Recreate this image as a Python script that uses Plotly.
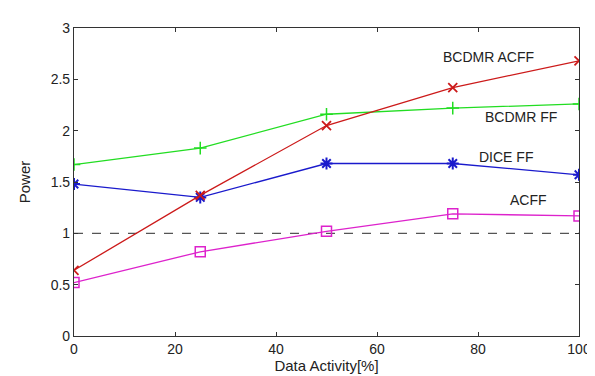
import plotly.graph_objects as go

activity = [0, 25, 50, 75, 100]
bcdmr_acff = [0.64, 1.37, 2.05, 2.42, 2.68]
bcdmr_ff = [1.67, 1.83, 2.16, 2.22, 2.26]
dice_ff = [1.48, 1.35, 1.68, 1.68, 1.57]
acff = [0.52, 0.82, 1.02, 1.19, 1.17]
baseline = [1.0, 1.0]
baseline_x = [0, 100]

labels = ["BCDMR ACFF", "BCDMR FF", "DICE FF", "ACFF"]
label_x = [82, 88.5, 85.5, 90]
label_y = [2.72, 2.13, 1.74, 1.32]

FONT = "Liberation Sans, Arial"

fig = go.Figure()
fig.add_trace(go.Scatter(x=baseline_x, y=baseline, mode="lines",
                         line=dict(color="#555555", width=1.3, dash="dash"), showlegend=False))
fig.add_trace(go.Scatter(x=activity, y=bcdmr_ff, mode="lines+markers",
                         line=dict(color="#22dd22", width=1.3),
                         marker=dict(symbol="cross-thin", size=9, line=dict(color="#22dd22", width=1.5)),
                         showlegend=False))
fig.add_trace(go.Scatter(x=activity, y=dice_ff, mode="lines+markers",
                         line=dict(color="#1a1acc", width=1.3),
                         marker=dict(symbol="asterisk", size=10, line=dict(color="#1a1acc", width=2)),
                         showlegend=False))
fig.add_trace(go.Scatter(x=activity, y=bcdmr_acff, mode="lines+markers",
                         line=dict(color="#cc1a1a", width=1.3),
                         marker=dict(symbol="x-thin", size=9, line=dict(color="#cc1a1a", width=1.8)),
                         showlegend=False))
fig.add_trace(go.Scatter(x=activity, y=acff, mode="lines+markers",
                         line=dict(color="#dd22cc", width=1.3),
                         marker=dict(symbol="square-open", size=10, color="#dd22cc", line=dict(width=1.5)),
                         showlegend=False))

for t, x, y in zip(labels, label_x, label_y):
    fig.add_annotation(x=x, y=y, text=t, showarrow=False,
                       font=dict(family=FONT, size=14, color="#222222"))

fig.update_layout(
    width=595, height=376,
    margin=dict(l=66, r=21, t=13, b=48),
    paper_bgcolor="white", plot_bgcolor="white",
    font=dict(family=FONT, size=14, color="#222222"),
)
fig.update_xaxes(range=[0, 100], tickvals=[0, 20, 40, 60, 80, 100],
                 ticks="inside", ticklen=4, tickcolor="#333", showgrid=False, zeroline=False,
                 showline=True, linecolor="#333", linewidth=1.2, mirror="ticks",
                 title=dict(text="Data Activity[%]", standoff=4, font=dict(family=FONT, size=15)),
                 tickfont=dict(size=14))
fig.update_yaxes(range=[0, 3], tickvals=[0, 0.5, 1, 1.5, 2, 2.5, 3],
                 ticktext=["0", "0.5", "1", "1.5", "2", "2.5", "3"],
                 ticks="inside", ticklen=4, tickcolor="#333", showgrid=False, zeroline=False,
                 showline=True, linecolor="#333", linewidth=1.2, mirror="ticks",
                 title=dict(text="Power", standoff=16, font=dict(family=FONT, size=15)),
                 tickfont=dict(size=14))

fig.write_html("out.html")
